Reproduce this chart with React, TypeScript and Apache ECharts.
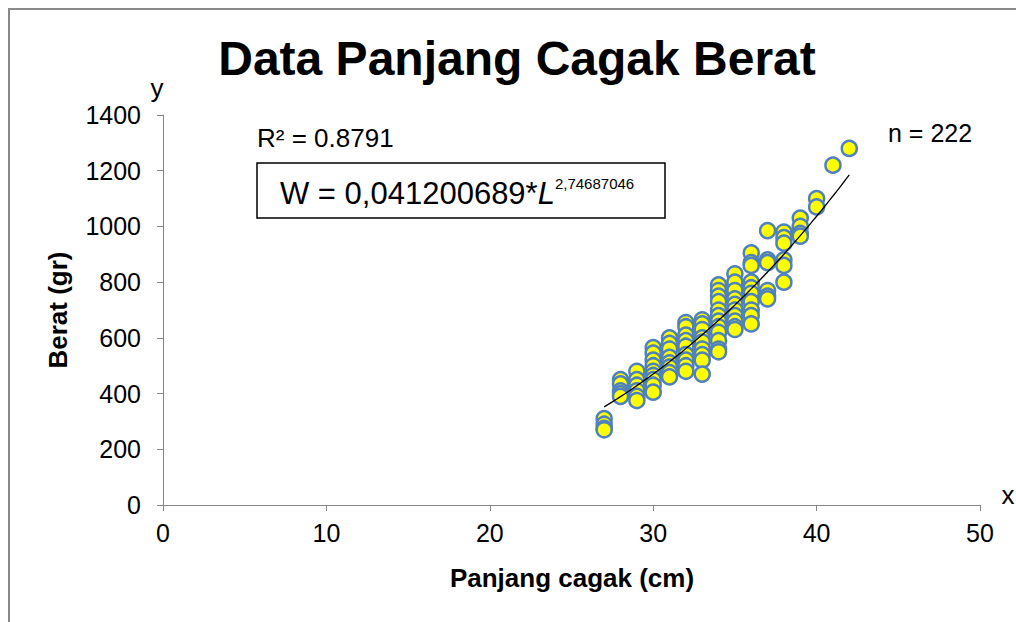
import React, { useEffect, useRef } from "react";
import * as echarts from "echarts";

// Panjang cagak (cm) per column and the Berat (gr) values read in each column
const panjang = [27, 28, 29, 30, 31, 32, 33, 34, 35, 36, 37, 38, 39, 40, 41, 42];
const berat = [
  [310, 290, 275, 270],
  [450, 435, 410, 400, 390],
  [480, 450, 430, 410, 390, 375],
  [565, 545, 520, 500, 480, 465, 450, 430, 405],
  [600, 580, 560, 530, 510, 495, 475, 460],
  [655, 640, 610, 590, 570, 540, 520, 500, 480],
  [665, 650, 630, 600, 585, 560, 540, 520, 470],
  [790, 770, 750, 730, 700, 680, 660, 640, 620, 590, 560, 550],
  [830, 800, 770, 740, 720, 700, 680, 660, 640, 630],
  [905, 870, 860, 800, 780, 760, 730, 700, 680, 650],
  [985, 880, 870, 770, 750, 740],
  [980, 960, 940, 880, 860, 800],
  [1030, 1000, 975, 965],
  [1100, 1070],
  [1220],
  [1280],
];

// Power trend line W = a * L^b (coefficients as printed on the chart)
const trendA = 0.041200689;
const trendB = 2.74687046;
const trendRange = [27, 42];

const xTicks = { min: 0, max: 50, interval: 10 };
const yTicks = { min: 0, max: 1400, interval: 200 };

const FONT = "'Liberation Sans', Arial, sans-serif";

export default function App() {
  const ref = useRef<HTMLDivElement>(null);
  useEffect(() => {
    if (!ref.current) return;
    document.body.style.overflow = "hidden";
    const chart = echarts.init(ref.current, undefined, { renderer: "svg" });
    const points: number[][] = [];
    panjang.forEach((L, i) => berat[i].forEach((w) => points.push([L, w])));
    const trend: number[][] = [];
    for (let L = trendRange[0]; L <= trendRange[1] + 1e-9; L += 0.25) {
      trend.push([L, trendA * Math.pow(L, trendB)]);
    }
    const axisGray = "#868686";
    chart.setOption({
      animation: false,
      backgroundColor: "#ffffff",
      textStyle: { fontFamily: FONT },
      grid: { left: 155, top: 107, width: 817, height: 390, containLabel: false },
      xAxis: {
        type: "value",
        min: xTicks.min,
        max: xTicks.max,
        interval: xTicks.interval,
        axisLine: { show: true, onZero: false, lineStyle: { color: axisGray, width: 1 } },
        axisTick: { show: true, inside: false, length: 6, lineStyle: { color: axisGray } },
        axisLabel: { color: "#000", fontSize: 25, fontFamily: FONT, margin: 15, formatter: (v: number) => String(v) },
        splitLine: { show: false },
      },
      yAxis: {
        type: "value",
        min: yTicks.min,
        max: yTicks.max,
        interval: yTicks.interval,
        axisLine: { show: true, onZero: false, lineStyle: { color: axisGray, width: 1 } },
        axisTick: { show: true, inside: false, length: 6, lineStyle: { color: axisGray } },
        axisLabel: { color: "#000", fontSize: 25, fontFamily: FONT, margin: 22, formatter: (v: number) => String(v) },
        splitLine: { show: false },
      },
      series: [
        {
          type: "scatter",
          data: points,
          symbol: "circle",
          symbolSize: 15,
          itemStyle: { color: "#FFFF00", borderColor: "#4F81BD", borderWidth: 2.5, opacity: 1 },
          z: 2,
        },
        {
          type: "line",
          data: trend,
          showSymbol: false,
          symbol: "none",
          smooth: false,
          lineStyle: { color: "#000", width: 1.3 },
          z: 3,
        },
      ],
      graphic: [
        {
          type: "line",
          silent: true,
          z: -1,
          shape: { x1: 1, y1: 1, x2: 1, y2: 2000 },
          style: { stroke: "#898989", lineWidth: 2 },
        },
        {
          type: "line",
          silent: true,
          z: -1,
          shape: { x1: 0, y1: 1, x2: 2000, y2: 1 },
          style: { stroke: "#898989", lineWidth: 2 },
        },
        {
          type: "text",
          x: 509,
          y: 50,
          style: {
            text: "Data Panjang Cagak Berat",
            fontSize: 48,
            fontWeight: "bold",
            fontFamily: FONT,
            fill: "#000",
            align: "center",
            verticalAlign: "middle",
          },
        },
        {
          type: "text",
          x: 50,
          y: 302,
          rotation: Math.PI / 2,
          style: {
            text: "Berat (gr)",
            fontSize: 26,
            fontWeight: "bold",
            fontFamily: FONT,
            fill: "#000",
            align: "center",
            verticalAlign: "middle",
          },
        },
        {
          type: "text",
          x: 564,
          y: 570,
          style: {
            text: "Panjang cagak (cm)",
            fontSize: 26,
            fontWeight: "bold",
            fontFamily: FONT,
            fill: "#000",
            align: "center",
            verticalAlign: "middle",
          },
        },
        {
          type: "text",
          x: 149,
          y: 80,
          style: { text: "y", fontSize: 26, fontFamily: FONT, fill: "#000", align: "center", verticalAlign: "middle" },
        },
        {
          type: "text",
          x: 1000,
          y: 487,
          style: { text: "x", fontSize: 26, fontFamily: FONT, fill: "#000", align: "center", verticalAlign: "middle" },
        },
        {
          type: "text",
          x: 880,
          y: 125,
          style: { text: "n = 222", fontSize: 25, fontFamily: FONT, fill: "#000", align: "left", verticalAlign: "middle" },
        },
        {
          type: "text",
          x: 249,
          y: 130,
          style: { text: "R² = 0.8791", fontSize: 26, fontFamily: FONT, fill: "#000", align: "left", verticalAlign: "middle" },
        },
        {
          type: "rect",
          shape: { x: 249, y: 155, width: 408, height: 55 },
          style: { fill: "#fff", stroke: "#000", lineWidth: 1.5 },
        },
        {
          type: "text",
          x: 272,
          y: 185,
          style: {
            text: "{a|W = 0,041200689*}{b|L}{c|2,74687046}",
            fontFamily: FONT,
            fill: "#000",
            align: "left",
            verticalAlign: "middle",
            rich: {
              a: { fontSize: 31, fontFamily: FONT, lineHeight: 34 },
              b: { fontSize: 31, fontFamily: FONT, fontStyle: "italic", lineHeight: 34 },
              c: { fontSize: 15, fontFamily: FONT, verticalAlign: "top", lineHeight: 18 },
            },
          },
        },
      ],
    });
    return () => chart.dispose();
  }, []);
  return (
    <div style={{ position: "fixed", left: 8, top: 8, width: 1020, height: 620, overflow: "hidden" }}>
      <div ref={ref} style={{ width: 1020, height: 620 }} />
    </div>
  );
}
